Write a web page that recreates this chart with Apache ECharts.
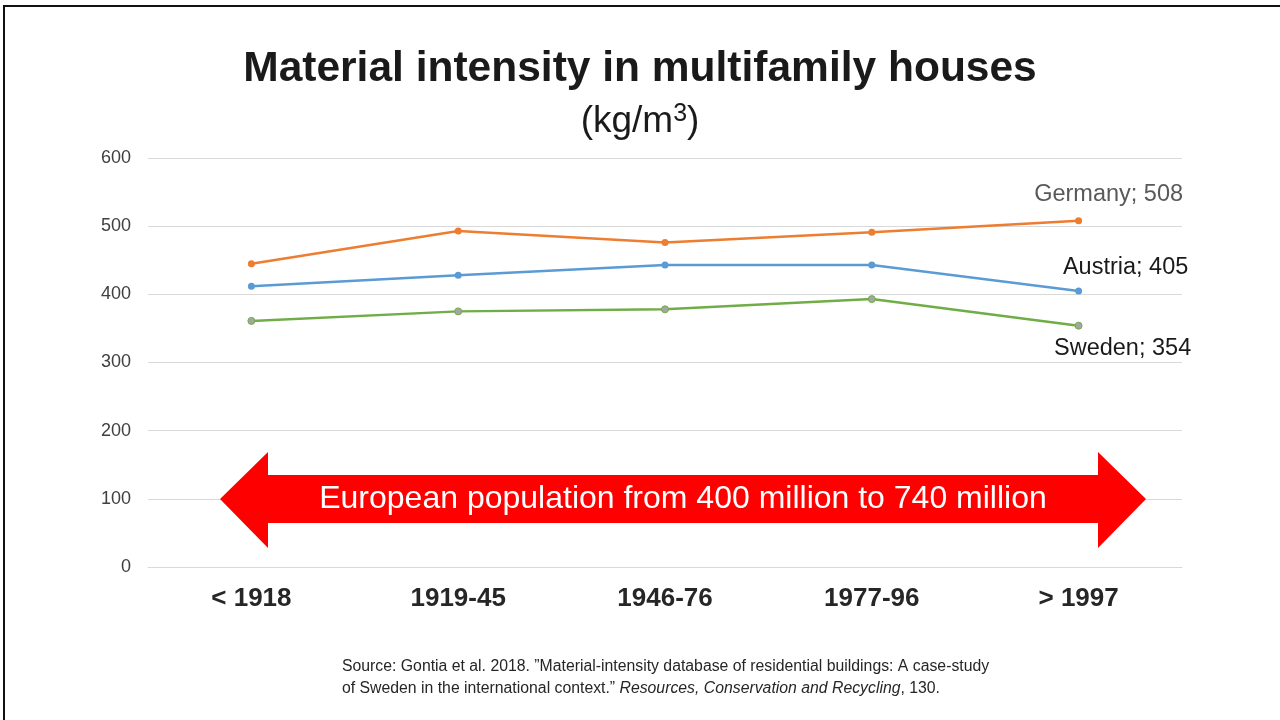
<!DOCTYPE html>
<html>
<head>
<meta charset="utf-8">
<script src="https://cdn.jsdelivr.net/npm/echarts@6/dist/echarts.min.js"></script>
<style>
  html, body { margin: 0; padding: 0; background: #fff; }
  #main { width: 1280px; height: 720px; position: relative; }
  #frame { position: absolute; left: 3px; top: 5px; right: -10px; bottom: -10px;
           border-top: 2px solid #111; border-left: 2px solid #111; pointer-events: none; }
</style>
</head>
<body>
<div id="main"></div>
<div id="frame"></div>
<script>
// 建造年代
var periods = ['< 1918', '1919-45', '1946-76', '1977-96', '> 1997'];
// 各国材料强度 kg/m3
var germany = [445, 493, 476, 491, 508];
var austria = [412, 428, 443, 443, 405];
var sweden = [361, 375, 378, 393, 354];
var yTicks = [0, 100, 200, 300, 400, 500, 600];

var FONT = '"Liberation Sans", Arial, sans-serif';

function endLabel(name, values, color, dx, dy) {
  var last = values.length - 1;
  return values.map(function(v, i) {
    if (i !== last) return v;
    return {
      value: v,
      label: {
        show: true,
        position: 'inside',
        align: 'center',
        verticalAlign: 'middle',
        offset: [dx, dy],
        formatter: name + '; ' + v,
        fontFamily: FONT,
        fontSize: 23.5,
        color: color
      }
    };
  });
}

var chart = echarts.init(document.getElementById('main'));

var option = {
  animation: false,
  backgroundColor: '#fff',
  textStyle: { fontFamily: FONT },
  title: [{
    text: 'Material intensity in multifamily houses',
    left: 'center',
    top: 43,
    textStyle: { fontFamily: FONT, fontSize: 42.5, fontWeight: 'bold', color: '#1a1a1a' }
  }, {
    text: '(kg/m{sup|3})',
    left: 'center',
    top: 97,
    textStyle: {
      fontFamily: FONT, fontSize: 37, fontWeight: 'normal', color: '#1a1a1a',
      rich: { sup: { fontFamily: FONT, fontSize: 25, color: '#1a1a1a', verticalAlign: 'top', padding: [0, 0, 14, 0] } }
    }
  }],
  grid: { left: 148, right: 98, top: 158, bottom: 153 },
  xAxis: {
    type: 'category',
    data: periods,
    boundaryGap: true,
    axisLine: { show: true, lineStyle: { color: '#d9d9d9', width: 1 } },
    axisTick: { show: false },
    axisLabel: { margin: 19, fontFamily: FONT, fontSize: 26, fontWeight: 'bold', color: '#262626' }
  },
  yAxis: {
    type: 'value',
    min: yTicks[0],
    max: yTicks[yTicks.length - 1],
    interval: 100,
    axisLine: { show: false },
    axisTick: { show: false },
    axisLabel: { margin: 17, fontFamily: FONT, fontSize: 18, color: '#404040' },
    splitLine: { lineStyle: { color: '#d9d9d9', width: 1 } }
  },
  series: [{
    name: 'Germany',
    type: 'line',
    data: endLabel('Germany', germany, '#595959', 30, -26),
    symbol: 'circle',
    symbolSize: 7,
    lineStyle: { color: '#ed7d31', width: 2.5 },
    itemStyle: { color: '#ed7d31' }
  }, {
    name: 'Austria',
    type: 'line',
    data: endLabel('Austria', austria, '#1a1a1a', 47, -23),
    symbol: 'circle',
    symbolSize: 7,
    lineStyle: { color: '#5b9bd5', width: 2.5 },
    itemStyle: { color: '#5b9bd5' }
  }, {
    name: 'Sweden',
    type: 'line',
    data: endLabel('Sweden', sweden, '#1a1a1a', 44, 23),
    symbol: 'circle',
    symbolSize: 7,
    lineStyle: { color: '#70ad47', width: 2.5 },
    itemStyle: { color: '#a5a5a5', borderColor: '#70ad47', borderWidth: 1 }
  }],
  graphic: [{
    type: 'polygon',
    z: 10,
    shape: {
      points: [[220, 499], [268, 452], [268, 475], [1098, 475], [1098, 452],
               [1146, 499], [1098, 548], [1098, 523], [268, 523], [268, 548]]
    },
    style: { fill: '#ff0000' }
  }, {
    type: 'text',
    z: 11,
    x: 683,
    y: 499,
    style: {
      text: 'European population from 400 million to 740 million',
      fontFamily: FONT, fontSize: 32, fill: '#ffffff',
      textAlign: 'center', textVerticalAlign: 'middle'
    }
  }, {
    type: 'text',
    x: 342,
    y: 656,
    style: {
      text: 'Source: Gontia et al. 2018. \u201dMaterial-intensity database of residential buildings: A case-study\n' +
            'of Sweden in the international context.\u201d {i|Resources, Conservation and Recycling}, 130.',
      fontFamily: FONT, fontSize: 15.8, fill: '#262626', lineHeight: 22,
      rich: { i: { fontFamily: FONT, fontSize: 15.8, fontStyle: 'italic', fill: '#262626', color: '#262626' } }
    }
  }]
};

chart.setOption(option);
</script>
</body>
</html>
